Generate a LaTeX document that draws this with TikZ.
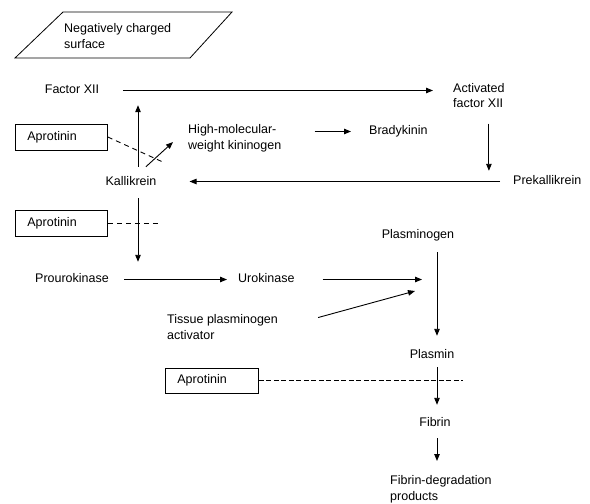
\documentclass[tikz,border=0pt]{standalone}
\usepackage{fontspec}
\setmainfont{Liberation Sans}
\usetikzlibrary{arrows.meta}
\usetikzlibrary{calc}
\newcommand{\lblfont}{\fontsize{12.5}{15.5}\selectfont}
\newcommand{\boxtext}[2][68pt]{\makebox[#1][l]{#2}}
\newcommand{\drawBlock}[3][]{
	\draw[blockline,#1] (#2.east) -- (#3);
}
\tikzset{
	lbl/.style={inner sep=0pt, text height=9pt, text depth=3pt, font=\lblfont},
	mlbl/.style={inner sep=0pt, align=left, anchor=north west, font=\lblfont},
	aprbox/.style={draw, line width=0.8pt, anchor=west, inner xsep=12pt, inner ysep=0pt,
		text height=9pt, text depth=3pt, minimum height=26pt, font=\lblfont},
	arr/.style={-{Triangle[length=7pt,width=5.5pt]}, line width=0.9pt},
	blockline/.style={line width=0.9pt, dash pattern=on 5pt off 4pt}
}

\begin{document}
\begin{tikzpicture}[x=1pt,y=-1pt]
		\useasboundingbox (0,0) rectangle (590,504);

		\coordinate (S_TL) at (63,12);
		\coordinate (S_TR) at (232,12);
		\coordinate (S_BR) at (190,58);
		\coordinate (S_BL) at (15,58);
		\draw[line width=0.8pt] (S_TL) -- (S_TR) -- (S_BR) -- (S_BL) -- cycle;
		\node[mlbl] (surface) at (64,23.5) {Negatively charged\\surface};

		\node[lbl] (factorXII) at (72,90.5) {Factor XII};
		\node[mlbl] (actXII) at (453,83) {Activated\\factor XII};
		\node[lbl, anchor=west] (prekall) at (513,181.5) {Prekallikrein};
		\node[lbl] (kall) at (131,182.5) {Kallikrein};
		\node[mlbl] (hmwk) at (188,124.5) {High-molecular-\\weight kininogen};
		\node[lbl, anchor=west] (brady) at (369,131.5) {Bradykinin};
		\node[aprbox] (aprA) at (15,137) {\boxtext{Aprotinin}};
		\node[aprbox] (aprB) at (15,223.5) {\boxtext{Aprotinin}};
		\node[lbl] (prouro) at (72,279.5) {Prourokinase};
		\node[lbl, anchor=west] (uro) at (238,279.5) {Urokinase};
		\node[lbl] (plgn) at (418,235.5) {Plasminogen};
		\node[mlbl] (tpa) at (167,314.5) {Tissue plasminogen\\activator};
		\node[lbl] (plasmin) at (432,355.5) {Plasmin};
		\node[aprbox, minimum height=25pt] (aprC) at (165,380.5) {\boxtext[69pt]{Aprotinin}};
		\node[lbl] (fibrin) at (435,423.5) {Fibrin};
		\node[mlbl] (fdp) at (390,475.5) {Fibrin-degradation\\products};

		\coordinate (blkA) at (165,163);
		\coordinate (blkB) at (158,223.5);
		\coordinate (blkC) at (463,380.5);
		\coordinate (plgnIn) at (422,279);
		\coordinate (tpaIn) at (415,291);

		\draw[arr, shorten <=23.5pt, shorten >=20pt] (factorXII.east) -- (factorXII.east -| actXII.west);
		\draw[arr, shorten <=15.5pt, shorten >=4.5pt] ([xshift=10pt]actXII.south) -- ([xshift=10pt]actXII.south |- prekall.north);
		\draw[arr, shorten <=13pt, shorten >=33pt] (prekall.west) -- (prekall.west -| kall.east);
		\draw[arr, shorten <=9.5pt, shorten >=8.5pt] ([xshift=7pt]kall.north) -- ([xshift=7pt]kall.north |- factorXII.south);
		\draw[arr] ([shift={(-10.7,-9.5)}]kall.north east) -- ([shift={(-15,-10)}]hmwk.south west);
		\draw[arr, shorten <=33pt, shorten >=18pt] (brady.west -| hmwk.east) -- (brady.west);
		\draw[arr, shorten <=9.5pt, shorten >=11.5pt] ([xshift=7pt]kall.south) -- ([xshift=7pt]kall.south |- prouro.north);
		\draw[arr, shorten <=15pt, shorten >=11pt] (prouro.east) -- (uro.west);
		\draw[arr, shorten <=28pt] (uro.east) -- (uro.east -| plgnIn);
		\draw[arr] ([shift={(40,-9.5)}]tpa.east) -- (tpaIn);
		\draw[arr, shorten <=10.5pt, shorten >=13.5pt] ([xshift=19pt]plgn.south) -- ([xshift=19pt]plgn.south |- plasmin.north);
		\draw[arr, shorten <=5.5pt, shorten >=12.5pt] ([xshift=5pt]plasmin.south) -- ([xshift=5pt]plasmin.south |- fibrin.north);
		\draw[arr, shorten <=8.5pt, shorten >=14.5pt] ([xshift=2pt]fibrin.south) -- ([xshift=2pt]fibrin.south |- fdp.north);

		\drawBlock{aprA}{blkA}
		\drawBlock{aprB}{blkB}
		\drawBlock[dash pattern=on 5pt off 2.5pt]{aprC}{blkC}
	\end{tikzpicture}
\end{document}
